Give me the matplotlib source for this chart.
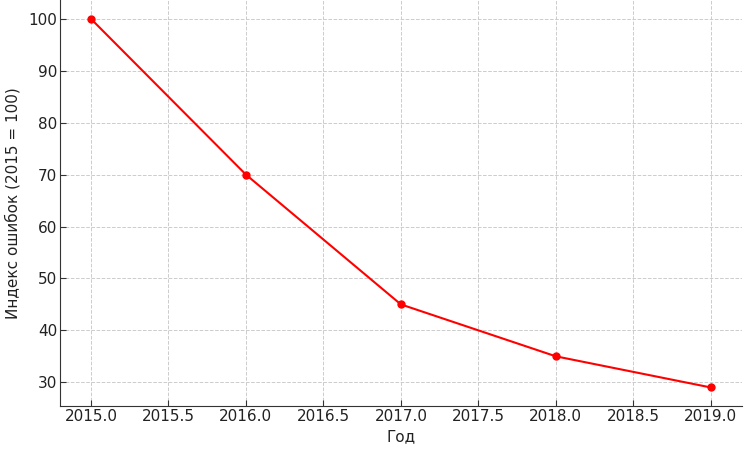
import matplotlib
matplotlib.use("Agg")
import matplotlib.pyplot as plt

years = [2015, 2016, 2017, 2018, 2019]
error_index = [100, 70, 45, 35, 29]

fig, ax = plt.subplots(figsize=(7.5, 4.53), dpi=100)
fig.subplots_adjust(left=0.08, right=0.989, bottom=0.104, top=0.999)

ax.plot(years, error_index, color='red', marker='o', markersize=5, linewidth=1.5)

ax.set_xlabel('Год', fontsize=11, color='#222222', labelpad=4)
ax.set_ylabel('Индекс ошибок (2015 = 100)', fontsize=11, color='#222222', labelpad=6)
ax.tick_params(labelsize=11, labelcolor='#222222', color='#333333', direction='in', length=4, pad=2)
ax.grid(True, linestyle='--', color='#cccccc', linewidth=0.7)
ax.spines['top'].set_visible(False)
ax.spines['right'].set_visible(False)
for s in ['left', 'bottom']:
    ax.spines[s].set_color('#333333')

fig.savefig('out.png', dpi=100)
